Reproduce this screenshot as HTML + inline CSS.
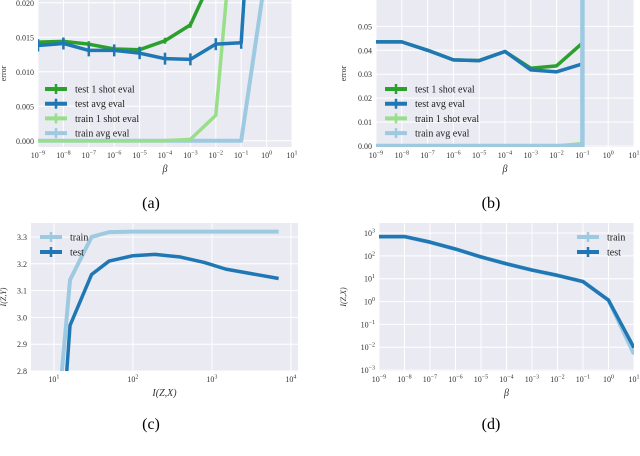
<!DOCTYPE html>
<html><head><meta charset="utf-8">
<style>
html,body{margin:0;padding:0;background:#fff;}
svg{display:block;font-family:"Liberation Serif","DejaVu Serif",serif;}
</style></head>
<body>
<svg id="fig" width="640" height="456" viewBox="0 0 640 456" xmlns="http://www.w3.org/2000/svg">
<text x="151" y="208" font-size="16" text-anchor="middle">(a)</text>
<text x="491" y="208" font-size="16" text-anchor="middle">(b)</text>
<text x="151" y="429" font-size="16" text-anchor="middle">(c)</text>
<text x="491" y="429" font-size="16" text-anchor="middle">(d)</text>
</svg>
<script>
// ---- data ----
const betaExp = [-9,-8,-7,-6,-5,-4,-3,-2,-1,0];
const aTest1 = [0.0143,0.0144,0.0140,0.0133,0.0132,0.0145,0.0168,0.0248,0.06,0.2];
const aTestAvg = [0.0138,0.0141,0.0131,0.0131,0.0127,0.0119,0.0118,0.0140,0.0142,0.072];
const aTrain1 = [0,0,0,0,0,0,0.0002,0.0037,0.0445,0.2];
const aTrainAvg = [0,0,0,0,0,0,0,0,0,0.025];
const bTest1 = [0.0435,0.0435,0.0400,0.0360,0.0357,0.0395,0.0325,0.0335,0.0430,50];
const bTestAvg = [0.0435,0.0435,0.0400,0.0360,0.0357,0.0395,0.0318,0.0310,0.0343,50];
const bTrain1 = [0,0,0,0,0,0,0,0,0.001,50];
const bTrainAvg = [0,0,0,0,0,0,0,0,0,50];
const cTrainX = [11,16,30,50,100,200,400,800,1500,7000];
const cTrainY = [2.6,3.14,3.30,3.318,3.32,3.32,3.32,3.32,3.32,3.32];
const cTestX = [13,16,30,50,100,190,400,800,1500,7000];
const cTestY = [2.6,2.97,3.16,3.21,3.23,3.235,3.225,3.205,3.18,3.145];
const dBetaExp = [-9,-8,-7,-6,-5,-4,-3,-2,-1,0,1];
const dTest = [700,700,400,200,90,45,24,14,7.5,1.15,0.0095];
const dTrain = [700,700,400,200,90,45,24,14,7.5,1.15,0.005];
const betaTicks = [-9,-8,-7,-6,-5,-4,-3,-2,-1,0,1];
const aYTicks = ["0.000","0.005","0.010","0.015","0.020"];
const bYTicks = ["0.00","0.01","0.02","0.03","0.04","0.05"];
const cYTicks = ["2.8","2.9","3.0","3.1","3.2","3.3"];
const cXTicks = [1,2,3,4];
const dYTicks = [-3,-2,-1,0,1,2,3];

const NS="http://www.w3.org/2000/svg";
const svg=document.getElementById('fig');
function mk(tag,attrs,parent){const e=document.createElementNS(NS,tag);for(const k in attrs)e.setAttribute(k,attrs[k]);(parent||svg).appendChild(e);return e;}
function powLabel(x,y,exp,anchor,name){
  const t=mk('text',{x:x,y:y,'font-size':8,'text-anchor':anchor,fill:'#333'});
  
  
  const a=document.createElementNS(NS,'tspan');a.textContent='10';t.appendChild(a);
  const b=document.createElementNS(NS,'tspan');b.setAttribute('dy','-3.5');b.setAttribute('font-size','6');b.textContent=(exp<0?'\u2212'+(-exp):''+exp);t.appendChild(b);
}
let cid=0;
function panel(P){
  const g=mk('g',{});
  
  
  const bg=mk('rect',{x:P.x0,y:P.y0,width:P.x1-P.x0,height:P.y1-P.y0,fill:'#eaeaf2'},g);
  
  
  const sx=v=>P.x0+(v-P.xd[0])/(P.xd[1]-P.xd[0])*(P.x1-P.x0);
  const sy=v=>P.y1-(v-P.yd[0])/(P.yd[1]-P.yd[0])*(P.y1-P.y0);
  P.xt.forEach(v=>{const X=sx(v);
    const l=mk('line',{x1:X,x2:X,y1:P.y0,y2:P.y1,stroke:'#fff','stroke-width':1},g);
    
    
    powLabel(X,P.y1+11,v,'middle','x-tick-label');});
  P.yt.forEach(v=>{const val=P.ylog?v:parseFloat(v);const Y=sy(val);
    const l=mk('line',{x1:P.x0,x2:P.x1,y1:Y,y2:Y,stroke:'#fff','stroke-width':1},g);
    
    
    if(P.ylog){powLabel(P.x0-4,Y+3,v,'end','y-tick-label');}
    else{const t=mk('text',{x:P.x0-4,y:Y+3,'font-size':8,'text-anchor':'end',fill:'#333'},g);t.textContent=v;
      
      }
  });
  const id='clip'+(cid++);
  const cp=mk('clipPath',{id:id},g);mk('rect',{x:P.x0,y:P.y0,width:P.x1-P.x0,height:P.y1-P.y0},cp);
  const sg=mk('g',{'clip-path':'url(#'+id+')'},g);
  P.series.forEach(s=>{
    const pts=s.x.map((xv,i)=>[sx(s.xf(xv)),sy(s.yf(s.y[i]))]);
    const pl=mk('polyline',{points:pts.map(p=>p.join(',')).join(' '),fill:'none',stroke:s.color,'stroke-width':s.w||3.5,'stroke-linejoin':'round'},sg);
    
    
    if(s.err){pts.forEach(p=>{const e=mk('line',{x1:p[0],x2:p[0],y1:p[1]-s.err,y2:p[1]+s.err,stroke:s.color,'stroke-width':2.5},sg);
      
      });}
  });
  P.legend.forEach((L,i)=>{const y=P.ly+i*P.lstep;
    const l=mk('line',{x1:P.lx,x2:P.lx+22,y1:y,y2:y,stroke:L.color,'stroke-width':4},g);
    
    
    const c=mk('line',{x1:P.lx+11,x2:P.lx+11,y1:y-5,y2:y+5,stroke:L.color,'stroke-width':2.5},g);
    
    
    const t=mk('text',{x:P.lx+30,y:y+3.5,'font-size':10,fill:'#222'},g);t.textContent=L.label;
    
    
  });
  const xl=mk('text',{x:(P.x0+P.x1)/2,y:P.y1+25,'font-size':10,'text-anchor':'middle','font-style':'italic',fill:'#333'},g);xl.textContent=P.xlabel;
  
  
  const yc=(P.y0+P.y1)/2;
  const yl=mk('text',{x:P.ylx,y:yc,'font-size':8,'text-anchor':'middle','font-style':P.ylabel==='error'?'normal':'italic',fill:'#333',transform:'rotate(-90 '+P.ylx+' '+yc+')'},g);yl.textContent=P.ylabel;
  
  
}
const id=v=>v, L10=v=>Math.log10(v);
const cG='#2ca02c',cB='#1f77b4',cLG='#98df8a',cLB='#9ecae1';
const legA=[{label:'test 1 shot eval',color:cG},{label:'test avg eval',color:cB},{label:'train 1 shot eval',color:cLG},{label:'train avg eval',color:cLB}];
panel({name:'panel-a',x0:38,x1:292,y0:0,y1:147,xd:[-9,1],yd:[-0.0009,0.0204],xt:betaTicks,yt:aYTicks,ylog:false,
  series:[
    {name:'train-avg-eval-line',x:betaExp,y:aTrainAvg,xf:id,yf:id,color:cLB,w:4},
    {name:'train-1shot-eval-line',x:betaExp,y:aTrain1,xf:id,yf:id,color:cLG,w:3.5},
    {name:'test-1shot-eval-line',x:betaExp,y:aTest1,xf:id,yf:id,color:cG,w:3.5,err:3},
    {name:'test-avg-eval-line',x:betaExp,y:aTestAvg,xf:id,yf:id,color:cB,w:3.5,err:6}],
  legend:legA,lx:45,ly:89,lstep:14.7,xlabel:'β',ylabel:'error',ylx:6});
panel({name:'panel-b',x0:376,x1:634,y0:0,y1:147,xd:[-9,1],yd:[-0.0004,0.061],xt:betaTicks,yt:bYTicks,ylog:false,
  series:[
    {name:'train-1shot-eval-line',x:betaExp,y:bTrain1,xf:id,yf:id,color:cLG,w:3.5},
    {name:'test-1shot-eval-line',x:betaExp,y:bTest1,xf:id,yf:id,color:cG,w:3.5},
    {name:'test-avg-eval-line',x:betaExp,y:bTestAvg,xf:id,yf:id,color:cB,w:3.5},
    {name:'train-avg-eval-line',x:betaExp,y:bTrainAvg,xf:id,yf:id,color:cLB,w:4.5}],
  legend:legA,lx:385,ly:89,lstep:14.7,xlabel:'β',ylabel:'error',ylx:346});
panel({name:'panel-c',x0:31,x1:298,y0:223,y1:371,xd:[0.71,4.09],yd:[2.8,3.352],xt:cXTicks,yt:cYTicks,ylog:false,
  series:[
    {name:'train-line',x:cTrainX,y:cTrainY,xf:L10,yf:id,color:cLB,w:4},
    {name:'test-line',x:cTestX,y:cTestY,xf:L10,yf:id,color:cB,w:3.5}],
  legend:[{label:'train',color:cLB},{label:'test',color:cB}],lx:40,ly:237,lstep:15,xlabel:'I(Z,X)',ylabel:'I(Z,Y)',ylx:6});
panel({name:'panel-d',x0:379,x1:634,y0:223,y1:371,xd:[-9,1],yd:[-3.04,3.44],xt:betaTicks,yt:dYTicks,ylog:true,
  series:[
    {name:'train-line',x:dBetaExp,y:dTrain,xf:id,yf:L10,color:cLB,w:4},
    {name:'test-line',x:dBetaExp,y:dTest,xf:id,yf:L10,color:cB,w:3.5}],
  legend:[{label:'train',color:cLB},{label:'test',color:cB}],lx:577,ly:237,lstep:15,xlabel:'β',ylabel:'I(Z,X)',ylx:346});
</script>
</body></html>
